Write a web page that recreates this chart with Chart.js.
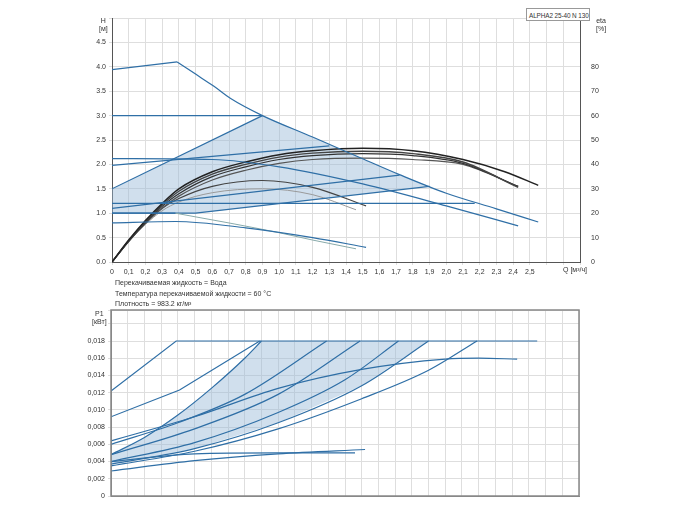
<!DOCTYPE html>
<html>
<head>
<meta charset="utf-8">
<script src="https://cdn.jsdelivr.net/npm/chart.js@4"></script>
<style>
  body { margin: 0; background: #fff; font-family: "Liberation Sans", Arial, sans-serif; }
  #wrap { position: relative; width: 700px; height: 525px; }
  canvas { position: absolute; left: 0; }
  .t { position: absolute; font-size: 7px; color: #333; line-height: 8px; white-space: nowrap; }
</style>
</head>
<body>
<div id="wrap">
  <canvas id="top" width="700" height="290" style="top:0;width:700px;height:290px"></canvas>
  <canvas id="bot" width="700" height="220" style="top:300px;width:700px;height:220px"></canvas>
  <div class="t" style="left:99px;top:17px;text-align:center">H<br>[м]</div>
  <div class="t" style="left:596px;top:17px;text-align:center">eta<br>[%]</div>
  <div class="t" style="left:563px;top:266px">Q [м³/ч]</div>
  <div class="t" style="left:526px;top:8px;width:64px;height:13px;border:1px solid #999;background:#fff;padding:3px 0 0 2px;box-sizing:border-box;font-size:6.4px;letter-spacing:-0.1px">ALPHA2 25-40 N 130</div>
  <div class="t" style="left:115px;top:279px">Перекачиваемая жидкость = Вода</div>
  <div class="t" style="left:115px;top:290px">Температура перекачиваемой жидкости = 60 °C</div>
  <div class="t" style="left:115px;top:300px">Плотность = 983.2 кг/м³</div>
  <div class="t" style="left:92px;top:310px;text-align:center">P1<br>[кВт]</div>
</div>
<script>
// ---- head curves (Q m3/h, H m) ----
const maxLeftQ = [0, 0.39];
const maxLeftH = [3.94, 4.1];
const maxQ = [0.39, 0.5, 0.61, 0.71, 0.9, 1.2, 1.51, 1.72, 2.0, 2.3, 2.55];
const maxH = [4.1, 3.85, 3.6, 3.35, 3.0, 2.56, 2.1, 1.79, 1.41, 1.09, 0.82];
const propHiQ = [0, 0.6, 1.0, 1.5, 2.0, 2.43];
const propHiH = [2.12, 2.1, 1.95, 1.6, 1.15, 0.74];
const lowBlueQ = [0, 0.38, 0.8, 1.2, 1.52];
const lowBlueH = [0.8, 0.83, 0.7, 0.5, 0.3];
const lowGrayQ = [0.38, 0.7, 1.0, 1.2, 1.46];
const lowGrayH = [1.0, 0.8, 0.6, 0.45, 0.27];
const straightLines = [
  [[0, 3.0], [0.9, 3.0]],
  [[0, 1.5], [0.9, 3.0]],
  [[0, 1.98], [1.3, 2.38]],
  [[0, 1.1], [1.72, 1.78]],
  [[0, 1.0], [0.5, 1.0], [1.9, 1.55]],
  [[0, 1.2], [2.17, 1.2]],
  [[0, 1.0], [0.38, 1.0]]
];
const shadeTopQ = [0, 0.9, 1.2, 1.51, 1.72, 1.9, 0.5, 0];
const shadeTopH = [1.5, 3.0, 2.56, 2.1, 1.79, 1.55, 1.0, 1.0];
// ---- efficiency curves (Q m3/h, eta %) ----
const etaQ = [0, 0.1, 0.2, 0.3, 0.4, 0.6, 0.8, 1.0, 1.2, 1.5, 1.8, 2.1, 2.35, 2.55];
const eta1 = [0, 9, 17, 24, 30, 37, 41, 44, 45.6, 46.6, 45.6, 42, 37, 31.4];
const eta2Q = [0, 0.1, 0.2, 0.3, 0.4, 0.6, 0.8, 1.0, 1.2, 1.5, 1.8, 2.1, 2.43];
const eta2 = [0, 8.8, 16.6, 23.4, 29, 36, 40, 43, 44.6, 45.4, 44.4, 41, 30.6];
const eta3 = [0, 8.6, 16.2, 22.8, 28, 35, 39, 42, 43.6, 44.4, 43.6, 40.4, 31];
const eta4 = [0, 8.4, 15.8, 22, 27, 33.6, 37.6, 40.4, 42, 42.6, 42, 40, 31];
const etaMidQ = [0, 0.1, 0.2, 0.3, 0.4, 0.6, 0.9, 1.2, 1.52];
const etaMid = [0, 8.6, 16, 22, 26, 31, 33.4, 30.6, 23];
const etaLowQ = [0, 0.1, 0.2, 0.3, 0.4, 0.6, 0.9, 1.2, 1.46];
const etaLow = [0, 8.4, 15.4, 21, 24.6, 28.4, 30, 27.6, 21.4];
// ---- power curves (Q m3/h, P1 kW) ----
const powerLines = [
  [[0, 0.0122], [0.39, 0.018], [2.55, 0.018]],
  [[0, 0.0092], [0.41, 0.0123], [0.89, 0.018]],
  [[0, 0.0048], [0.2, 0.0068], [0.4, 0.0094], [0.6, 0.0125], [0.8, 0.016], [0.9, 0.018]],
  [[0, 0.006], [0.4, 0.0085], [0.8, 0.0118], [1.29, 0.018]],
  [[0, 0.0064], [0.5, 0.0092], [1.0, 0.0125], [1.5, 0.0147], [2.0, 0.0159], [2.2, 0.016], [2.43, 0.0159]],
  [[0, 0.0048], [0.5, 0.0078], [1.0, 0.0118], [1.49, 0.018]],
  [[0, 0.004], [0.5, 0.0062], [1.0, 0.0097], [1.4, 0.0135], [1.72, 0.018]],
  [[0, 0.0037], [0.5, 0.0055], [1.0, 0.0085], [1.5, 0.0128], [1.9, 0.018]],
  [[0, 0.0035], [0.5, 0.0052], [1.0, 0.0078], [1.5, 0.0113], [1.9, 0.0146], [2.19, 0.018]],
  [[0, 0.0029], [0.5, 0.0041], [1.0, 0.0049], [1.52, 0.0054]],
  [[0, 0.004], [0.5, 0.0049], [1.0, 0.005], [1.46, 0.005]]
];
const shadeBotQ = [0, 0.2, 0.4, 0.6, 0.8, 0.9, 1.9, 1.5, 1.0, 0.5, 0];
const shadeBotP = [0.0048, 0.0068, 0.0094, 0.0125, 0.016, 0.018, 0.018, 0.0128, 0.0085, 0.0055, 0.0037];

const BLUE = '#2f6fa6';
const zip = (xs, ys) => xs.map((x, i) => ({ x, y: ys[i] }));
const pts = a => a.map(p => ({ x: p[0], y: p[1] }));
const line = (data, color, w, yAxisID, curve) => ({
  data, borderColor: color, borderWidth: w, pointRadius: 0, fill: false, yAxisID,
  tension: curve ? 0.4 : 0, cubicInterpolationMode: curve ? 'monotone' : 'default'
});
const shade = (data, yAxisID) => ({
  data, backgroundColor: 'rgba(150,185,215,0.45)', borderWidth: 0, pointRadius: 0,
  fill: 'shape', tension: 0, yAxisID, order: 10
});
const font = { family: '"Liberation Sans", Arial, sans-serif', size: 7 };
const grid = { color: '#dedede', drawTicks: true, tickLength: 3 };
const comma = v => String(v).replace('.', ',');

const topSets = [
  shade(zip(shadeTopQ, shadeTopH), 'y'),
  line(zip(maxLeftQ, maxLeftH), BLUE, 1.2, 'y', false),
  line(zip(maxQ, maxH), BLUE, 1.2, 'y', true),
  line(zip(propHiQ, propHiH), BLUE, 1.2, 'y', true),
  line(zip(lowBlueQ, lowBlueH), BLUE, 1.2, 'y', true),
  line(zip(lowGrayQ, lowGrayH), '#8aa', 1, 'y', true),
  ...straightLines.map(l => line(pts(l), BLUE, 1.2, 'y', false)),
  line(zip(etaQ, eta1), '#222', 1.5, 'eta', true),
  line(zip(eta2Q, eta2), '#444', 1.4, 'eta', true),
  line(zip(eta2Q, eta3), '#333', 1.2, 'eta', true),
  line(zip(eta2Q, eta4), '#555', 1.2, 'eta', true),
  line(zip(etaMidQ, etaMid), '#444', 1.2, 'eta', true),
  line(zip(etaLowQ, etaLow), '#999', 1, 'eta', true)
];

new Chart(document.getElementById('top'), {
  type: 'line',
  data: { datasets: topSets },
  options: {
    responsive: false, animation: false,
    layout: { padding: { top: 18 } },
    plugins: { legend: { display: false }, tooltip: { enabled: false } },
    scales: {
      x: {
        type: 'linear', min: 0, max: 2.8,
        afterFit: s => { s.height = 28; },
        grid, border: { color: '#555' },
        ticks: { stepSize: 0.1, font, color: '#333', maxRotation: 0, autoSkip: false,
          callback: v => {
            const k = Math.round(v * 10);
            if (k > 25) return '';
            return k === 0 ? '0' : comma((k / 10).toFixed(1));
          } }
      },
      y: {
        min: 0, max: 5,
        afterFit: s => { s.width = 112; },
        grid, border: { color: '#555' },
        ticks: { stepSize: 0.5, font, color: '#333', autoSkip: false,
          callback: v => (v < 5 ? v.toFixed(1) : '') }
      },
      eta: {
        position: 'right', min: 0, max: 100,
        afterFit: s => { s.width = 120; },
        grid: { display: false }, border: { color: '#555' },
        ticks: { stepSize: 10, font, color: '#333', autoSkip: false,
          callback: v => (v <= 80 ? v : '') }
      }
    }
  }
});

const botSets = [
  shade(zip(shadeBotQ, shadeBotP), 'y'),
  ...powerLines.map(l => line(pts(l), BLUE, 1.2, 'y', l.length > 3))
];

const frame = {
  id: 'frame',
  afterDraw(c) {
    const a = c.chartArea, ctx = c.ctx;
    ctx.save(); ctx.strokeStyle = '#888'; ctx.lineWidth = 1.5;
    ctx.strokeRect(a.left, a.top, a.right - a.left, a.bottom - a.top);
    ctx.restore();
  }
};

new Chart(document.getElementById('bot'), {
  type: 'line',
  data: { datasets: botSets },
  options: {
    responsive: false, animation: false,
    layout: { padding: { top: 10, right: 121 } },
    plugins: { legend: { display: false }, tooltip: { enabled: false } },
    scales: {
      x: {
        type: 'linear', min: 0, max: 2.8,
        afterFit: s => { s.height = 24; },
        grid: { color: '#dedede', drawTicks: false }, border: { color: '#888' },
        ticks: { stepSize: 0.1, display: false }
      },
      y: {
        min: 0, max: 0.0216,
        afterFit: s => { s.width = 111; },
        grid, border: { color: '#888' },
        ticks: { stepSize: 0.002, font, color: '#333', autoSkip: false,
          callback: v => {
            const k = Math.round(v * 1000);
            if (Math.abs(v * 1000 - k) > 1e-6 || k > 18) return '';
            return k === 0 ? '0' : comma((k / 1000).toFixed(3));
          } }
      }
    }
  },
  plugins: [frame]
});
</script>
</body>
</html>
